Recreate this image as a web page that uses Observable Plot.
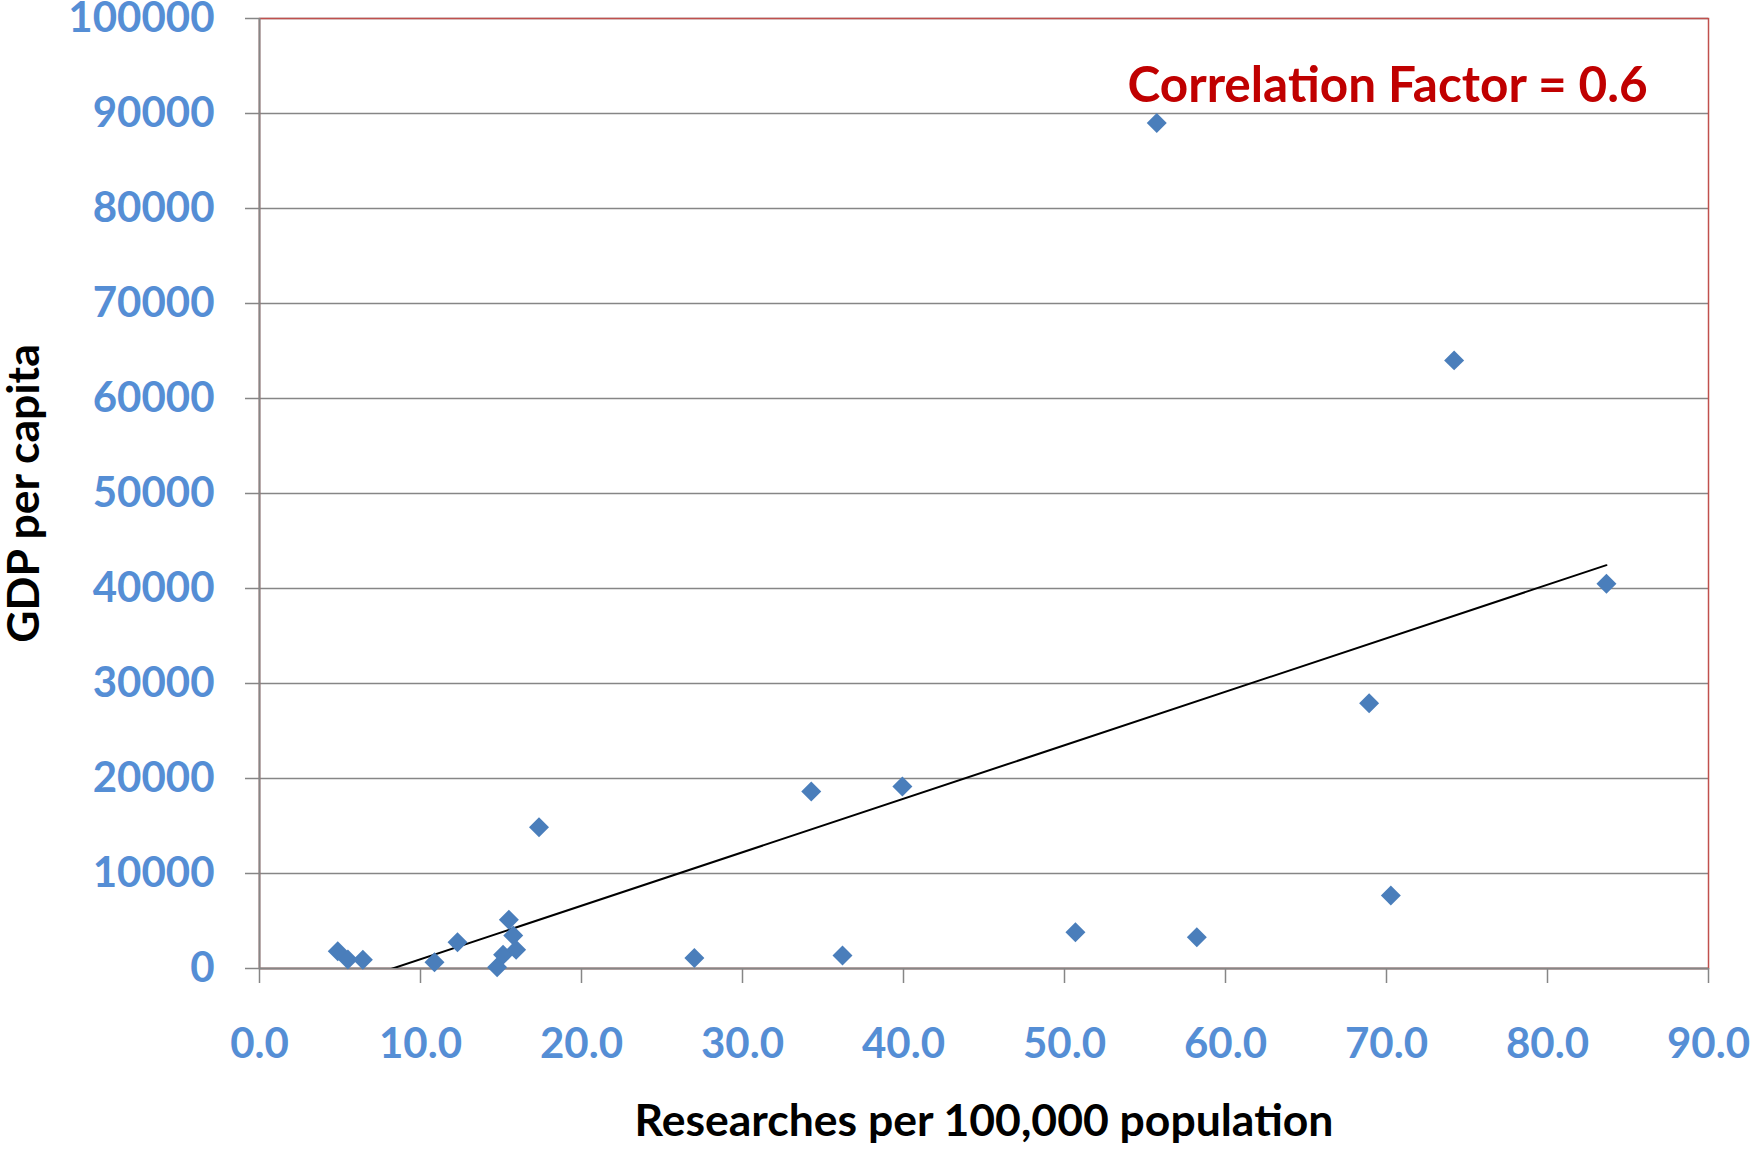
<!DOCTYPE html>
<html>
<head>
<meta charset="utf-8">
<script src="https://cdn.jsdelivr.net/npm/d3@7"></script>
<script src="https://cdn.jsdelivr.net/npm/@observablehq/plot@0.6"></script>
<style>
  html, body { margin: 0; padding: 0; background: #ffffff; }
</style>
</head>
<body>
<div id="chart"></div>
<script>
// Researchers per 100,000 population (x) and GDP per capita (y)
const researchers = [4.86, 5.49, 6.42, 10.87, 12.30, 14.76, 15.13, 15.49, 15.76, 15.94, 17.36, 27.01, 34.27, 36.21, 39.93, 50.68, 55.73, 58.22, 68.92, 70.27, 74.20, 83.66];
const gdpPerCapita = [1821, 947, 915, 663, 2768, 137, 1442, 5126, 3474, 1968, 14865, 1105, 18632, 1368, 19158, 3825, 89008, 3298, 27930, 7684, 64013, 40495];

const xTicks = [0, 10, 20, 30, 40, 50, 60, 70, 80, 90];
const yTicks = [0, 10000, 20000, 30000, 40000, 50000, 60000, 70000, 80000, 90000, 100000];

const xTitle = ["Researches per 100,000 population"];
const yTitle = ["GDP per capita"];
const annotation = ["Correlation Factor = 0.6"];

const data = researchers.map((x, i) => ({x, y: gdpPerCapita[i]}));

const tickBlue = "#558ED5";
const gray = "#868686";
const font = "Lato, 'Open Sans', sans-serif";

const chart = Plot.plot({
  width: 1752,
  height: 1149,
  marginLeft: 259,
  marginRight: 44,
  marginTop: 18,
  marginBottom: 181,
  style: {fontFamily: font, fontWeight: "bold", background: "#ffffff", overflow: "visible"},
  x: {domain: [0, 90]},
  y: {domain: [0, 100000]},
  marks: [
    Plot.gridY(yTicks, {stroke: gray, strokeOpacity: 1, strokeWidth: 1.5}),
    Plot.frame({stroke: "#C0504D", strokeWidth: 1.5}),
    Plot.ruleX([0], {stroke: gray, strokeWidth: 2}),
    Plot.ruleY([0], {stroke: gray, strokeWidth: 2}),
    Plot.axisY(yTicks, {
      tickSize: 14, tickPadding: 31, stroke: gray, strokeWidth: 1.5,
      fill: tickBlue, fontSize: 42, fontWeight: "bold", fontFamily: font,
      tickFormat: "d", label: null
    }),
    Plot.axisX(xTicks, {
      tickSize: 15, tickPadding: 45, stroke: gray, strokeWidth: 1.5,
      fill: tickBlue, fontSize: 42, fontWeight: "bold", fontFamily: font,
      tickFormat: ".1f", label: null
    }),
    Plot.linearRegressionY(data, {x: "x", y: "y", stroke: "#000000", strokeWidth: 2, ci: 0, clip: true}),
    Plot.dot(data, {x: "x", y: "y", symbol: "diamond2", r: 9, fill: "#4A7EBB", stroke: "none"}),
    Plot.text(xTitle, {
      frameAnchor: "bottom", dy: 167, lineAnchor: "bottom",
      fontSize: 44.5, fontWeight: "bold", fontFamily: font, fill: "#000000"
    }),
    Plot.text(yTitle, {
      frameAnchor: "left", dx: -235, rotate: -90, lineAnchor: "middle", textAnchor: "middle",
      fontSize: 44.5, fontWeight: "bold", fontFamily: font, fill: "#000000"
    }),
    Plot.text(annotation, {
      frameAnchor: "top-left", textAnchor: "start", dx: 868, dy: 83, lineAnchor: "bottom",
      fontSize: 49.5, fontWeight: "bold", fontFamily: font, fill: "#C00000"
    })
  ]
});

document.getElementById("chart").appendChild(chart);
</script>
</body>
</html>
